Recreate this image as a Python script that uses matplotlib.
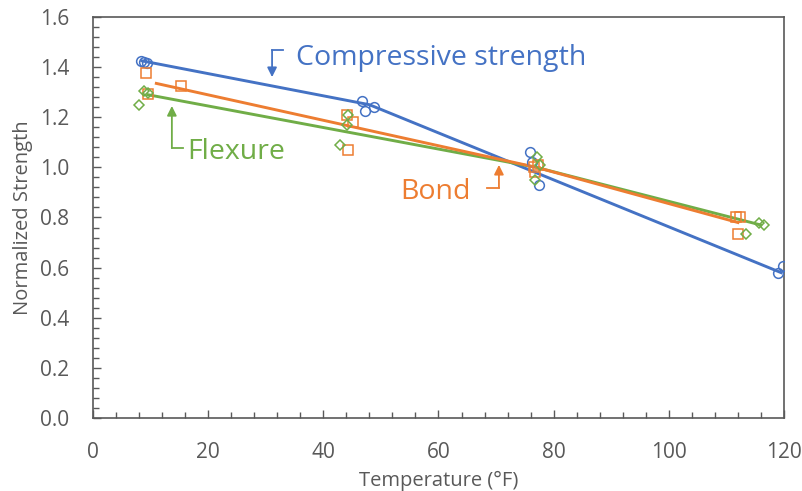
import matplotlib.pyplot as plt
import numpy as np
from matplotlib.ticker import MultipleLocator

plt.rcParams['font.family'] = ['Open Sans', 'DejaVu Sans']

# data
comp_x = [8.3, 8.9, 9.4, 46.7, 47.2, 48.8, 75.9, 76.2, 77.4, 118.9, 119.8]
comp_y = [1.425, 1.42, 1.415, 1.265, 1.225, 1.24, 1.06, 1.02, 0.93, 0.58, 0.607]
comp_fit_x = [8.5, 48.0, 119.5]
comp_fit_y = [1.425, 1.25, 0.58]

bond_x = [9.2, 9.6, 15.3, 44.1, 45.1, 44.3, 76.6, 76.8, 77.2, 111.6, 112.3, 112.0]
bond_y = [1.377, 1.293, 1.325, 1.21, 1.18, 1.07, 1.0, 0.98, 1.01, 0.80, 0.80, 0.734]
bond_fit_x = [11.0, 77.0, 112.0]
bond_fit_y = [1.335, 1.0, 0.78]

flex_x = [8.0, 8.9, 9.6, 44.3, 44.1, 42.9, 77.1, 77.6, 76.7, 113.4, 115.6, 116.5]
flex_y = [1.25, 1.305, 1.295, 1.21, 1.17, 1.09, 1.04, 1.01, 0.95, 0.734, 0.778, 0.77]
flex_fit_x = [9.5, 77.0, 116.0]
flex_fit_y = [1.29, 1.0, 0.77]

blue = "#4472C4"
orange = "#ED7D31"
green = "#70AD47"
grey = "#595959"

fig = plt.figure(figsize=(8.03, 4.91), dpi=100)
ax = fig.add_axes([0.1158, 0.1487, 0.8605, 0.8167])

# fitted lines
ax.plot(comp_fit_x, comp_fit_y, color=blue, lw=2.1, zorder=3)
ax.plot(flex_fit_x, flex_fit_y, color=green, lw=2.1, zorder=3)
ax.plot(bond_fit_x, bond_fit_y, color=orange, lw=2.1, zorder=3)

# measured points
ax.plot(comp_x, comp_y, "o", ms=7, mfc="none", mec=blue, mew=1.1, zorder=4)
ax.plot(bond_x, bond_y, "s", ms=6.5, mfc="none", mec=orange, mew=1.1, zorder=4)
ax.plot(flex_x, flex_y, "D", ms=5, mfc="none", mec=green, mew=1.1, zorder=4)

# labels with L-shaped arrows
def label(txt, tx, ty, ax_x, y0, y1, hx, color):
    ax.plot([hx, ax_x], [y0, y0], color=color, lw=1.3, zorder=5)
    ax.annotate("", xy=(ax_x, y1), xytext=(ax_x, y0),
                arrowprops=dict(arrowstyle="-|>", color=color, lw=1.3,
                                mutation_scale=14, shrinkA=0, shrinkB=0))
    ax.text(tx, ty, txt, color=color, fontsize=20.5, va="center", ha="left")

label("Compressive strength", 35.3, 1.438, 31.1, 1.468, 1.36, 33.0, blue)
label("Flexure", 16.4, 1.06, 13.7, 1.077, 1.245, 15.6, green)
label("Bond", 53.4, 0.9, 70.5, 0.918, 1.01, 68.4, orange)

ax.set_xlim(0, 120)
ax.set_ylim(0, 1.6)
ax.xaxis.set_major_locator(MultipleLocator(20))
ax.xaxis.set_minor_locator(MultipleLocator(4))
ax.yaxis.set_major_locator(MultipleLocator(0.2))
ax.yaxis.set_minor_locator(MultipleLocator(0.04))
ax.yaxis.set_major_formatter(plt.FuncFormatter(lambda v, p: f"{v:.1f}"))

ax.tick_params(which="both", direction="in", color=grey, top=False, right=False)
ax.tick_params(which="major", length=6, width=1, labelsize=15, labelcolor=grey)
ax.tick_params(which="minor", length=4, width=1)
ax.tick_params(axis="x", which="major", pad=17)
ax.tick_params(axis="y", which="major", pad=17)

for s in ax.spines.values():
    s.set_color(grey)
    s.set_linewidth(1.2)

ax.set_xlabel("Temperature (°F)", fontsize=14.5, color=grey, labelpad=6)
ax.set_ylabel("Normalized Strength", fontsize=14.5, color=grey, labelpad=5)

plt.savefig("out.png", dpi=100)
